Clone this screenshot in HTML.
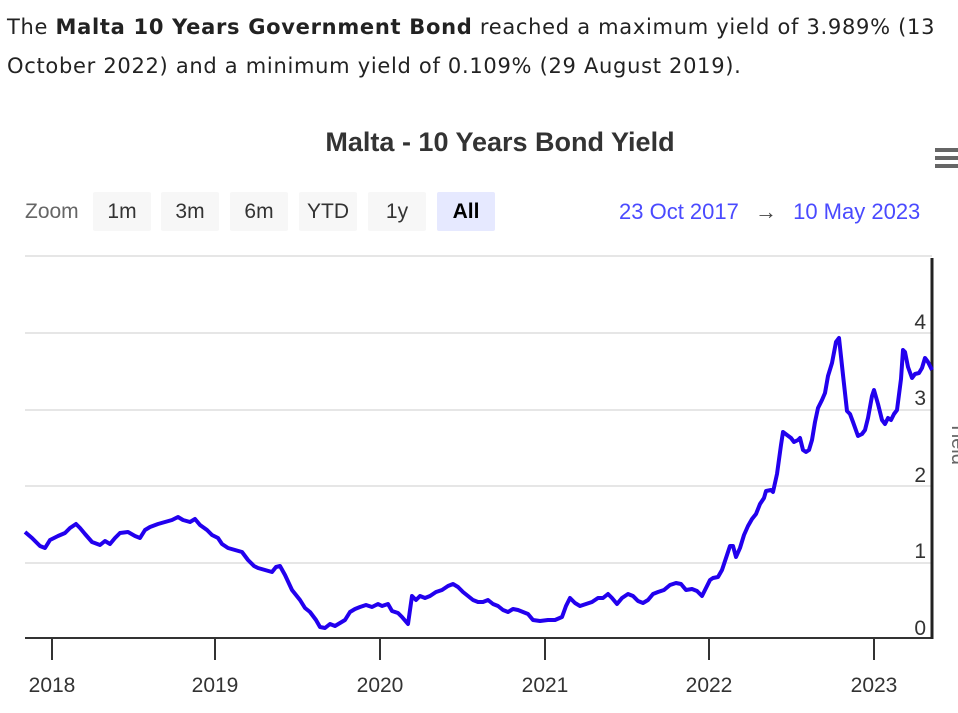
<!DOCTYPE html>
<html><head><meta charset="utf-8"><style>
body{margin:0;width:958px;height:713px;overflow:hidden;background:#fff;font-family:"Liberation Sans",sans-serif;position:relative}
.p{position:absolute;left:7px;top:8px;font-family:"DejaVu Sans",sans-serif;font-size:21px;letter-spacing:0.7px;color:#222;line-height:39px;width:960px;white-space:nowrap}
.t{position:absolute;left:0;width:1000px;text-align:center;top:127px;font-size:27px;font-weight:bold;color:#333}
.b{position:absolute;top:192px;height:39px;background:#f7f7f7;border-radius:2px;font-size:21px;color:#333;line-height:39px;text-align:center}
</style></head><body>
<div class="p">The <b>Malta 10 Years Government Bond</b> reached a maximum yield of 3.989% (13<br>October 2022) and a minimum yield of 0.109% (29 August 2019).</div>
<div class="t">Malta - 10 Years Bond Yield</div>
<div style="position:absolute;left:935px;top:148px;width:23px">
<div style="height:4px;background:#666;margin-bottom:4px"></div><div style="height:4px;background:#666;margin-bottom:4px"></div><div style="height:4px;background:#666"></div></div>
<div style="position:absolute;left:25px;top:192px;font-size:21px;color:#666;line-height:39px">Zoom</div>
<div class="b" style="left:93px;width:58px">1m</div>
<div class="b" style="left:161px;width:58px">3m</div>
<div class="b" style="left:230px;width:58px">6m</div>
<div class="b" style="left:299px;width:58px">YTD</div>
<div class="b" style="left:368px;width:58px">1y</div>
<div class="b" style="left:437px;width:58px;background:#e6e9ff;font-weight:bold;color:#000">All</div>
<div style="position:absolute;left:619px;top:192px;font-size:22px;color:#4a4aff;line-height:39px;white-space:nowrap">23 Oct 2017 <span style="color:#444;margin:0 10px">→</span> 10 May 2023</div>
<svg width="958" height="713" style="position:absolute;left:0;top:0">
<g stroke="#e6e6e6" stroke-width="2">
<line x1="25" x2="932" y1="256" y2="256"/><line x1="25" x2="932" y1="333" y2="333"/><line x1="25" x2="932" y1="410" y2="410"/><line x1="25" x2="932" y1="486" y2="486"/><line x1="25" x2="932" y1="563" y2="563"/></g>
<line x1="25" x2="932" y1="638" y2="638" stroke="#333" stroke-width="2"/>
<line x1="932" x2="932" y1="258" y2="639" stroke="#222" stroke-width="3"/>
<g stroke="#333" stroke-width="2"><line x1="52" x2="52" y1="638" y2="660"/><line x1="215" x2="215" y1="638" y2="660"/><line x1="380" x2="380" y1="638" y2="660"/><line x1="545" x2="545" y1="638" y2="660"/><line x1="709" x2="709" y1="638" y2="660"/><line x1="874" x2="874" y1="638" y2="660"/></g>
<g font-family="Liberation Sans,sans-serif" font-size="21" fill="#333" text-anchor="middle">
<text x="52" y="692">2018</text><text x="215" y="692">2019</text><text x="380" y="692">2020</text><text x="545" y="692">2021</text><text x="709" y="692">2022</text><text x="874" y="692">2023</text></g>
<g font-family="Liberation Sans,sans-serif" font-size="21" fill="#333" text-anchor="end">
<text x="926" y="329">4</text><text x="926" y="405">3</text><text x="926" y="482">2</text><text x="926" y="558">1</text><text x="926" y="635">0</text></g>
<text x="952" y="443" font-size="20" fill="#666" transform="rotate(90 952 443)" text-anchor="middle" font-family="Liberation Sans,sans-serif">Yield</text>
<polyline fill="none" stroke="#2200ee" stroke-width="4" stroke-linejoin="round" points="25,532 32,538 40,546 45,548 50,540 58,536 65,533 70,528 76,524 80,528 85,534 92,542 100,545 105,541 110,544 115,538 120,533 128,532 135,536 140,538 145,530 150,527 158,524 165,522 172,520 178,517 183,520 190,522 195,519 200,525 207,530 212,535 218,538 222,544 228,548 235,550 242,552 248,560 254,566 258,568 265,570 272,572 276,567 280,566 285,575 292,590 300,600 305,608 310,612 316,620 320,627 325,628 330,624 335,626 340,623 345,620 350,612 355,609 360,607 366,605 372,607 378,604 382,606 388,604 392,611 398,613 402,617 408,624 412,596 416,600 420,596 425,598 430,596 436,592 442,590 448,586 453,584 458,587 463,592 468,596 473,600 478,602 483,602 488,600 493,604 498,606 503,610 508,612 513,609 518,610 523,612 528,614 533,620 540,621 548,620 555,620 562,617 566,606 570,598 575,603 580,606 586,604 592,602 598,598 603,598 608,594 612,598 617,604 622,598 628,594 633,596 638,601 643,603 648,600 653,594 658,592 664,590 670,585 676,583 681,584 686,590 692,589 697,591 702,596 706,588 710,580 713,578 718,577 722,570 727,555 730,546 733,546 736,557 740,548 744,535 748,526 752,519 756,514 760,504 764,498 766,491 771,490 773,492 777,474 781,445 783,432 787,435 791,438 794,442 798,440 800,438 803,450 806,452 809,450 812,440 815,422 818,408 822,400 825,393 828,376 832,363 836,342 839,338 843,375 847,411 850,414 853,422 858,436 862,434 865,430 868,418 872,396 874,390 878,404 882,420 885,424 888,418 891,420 894,414 897,410 901,379 903,350 905,352 908,367 912,378 915,374 919,373 922,368 925,358 928,362 932,370"/>
</svg>
</body></html>
